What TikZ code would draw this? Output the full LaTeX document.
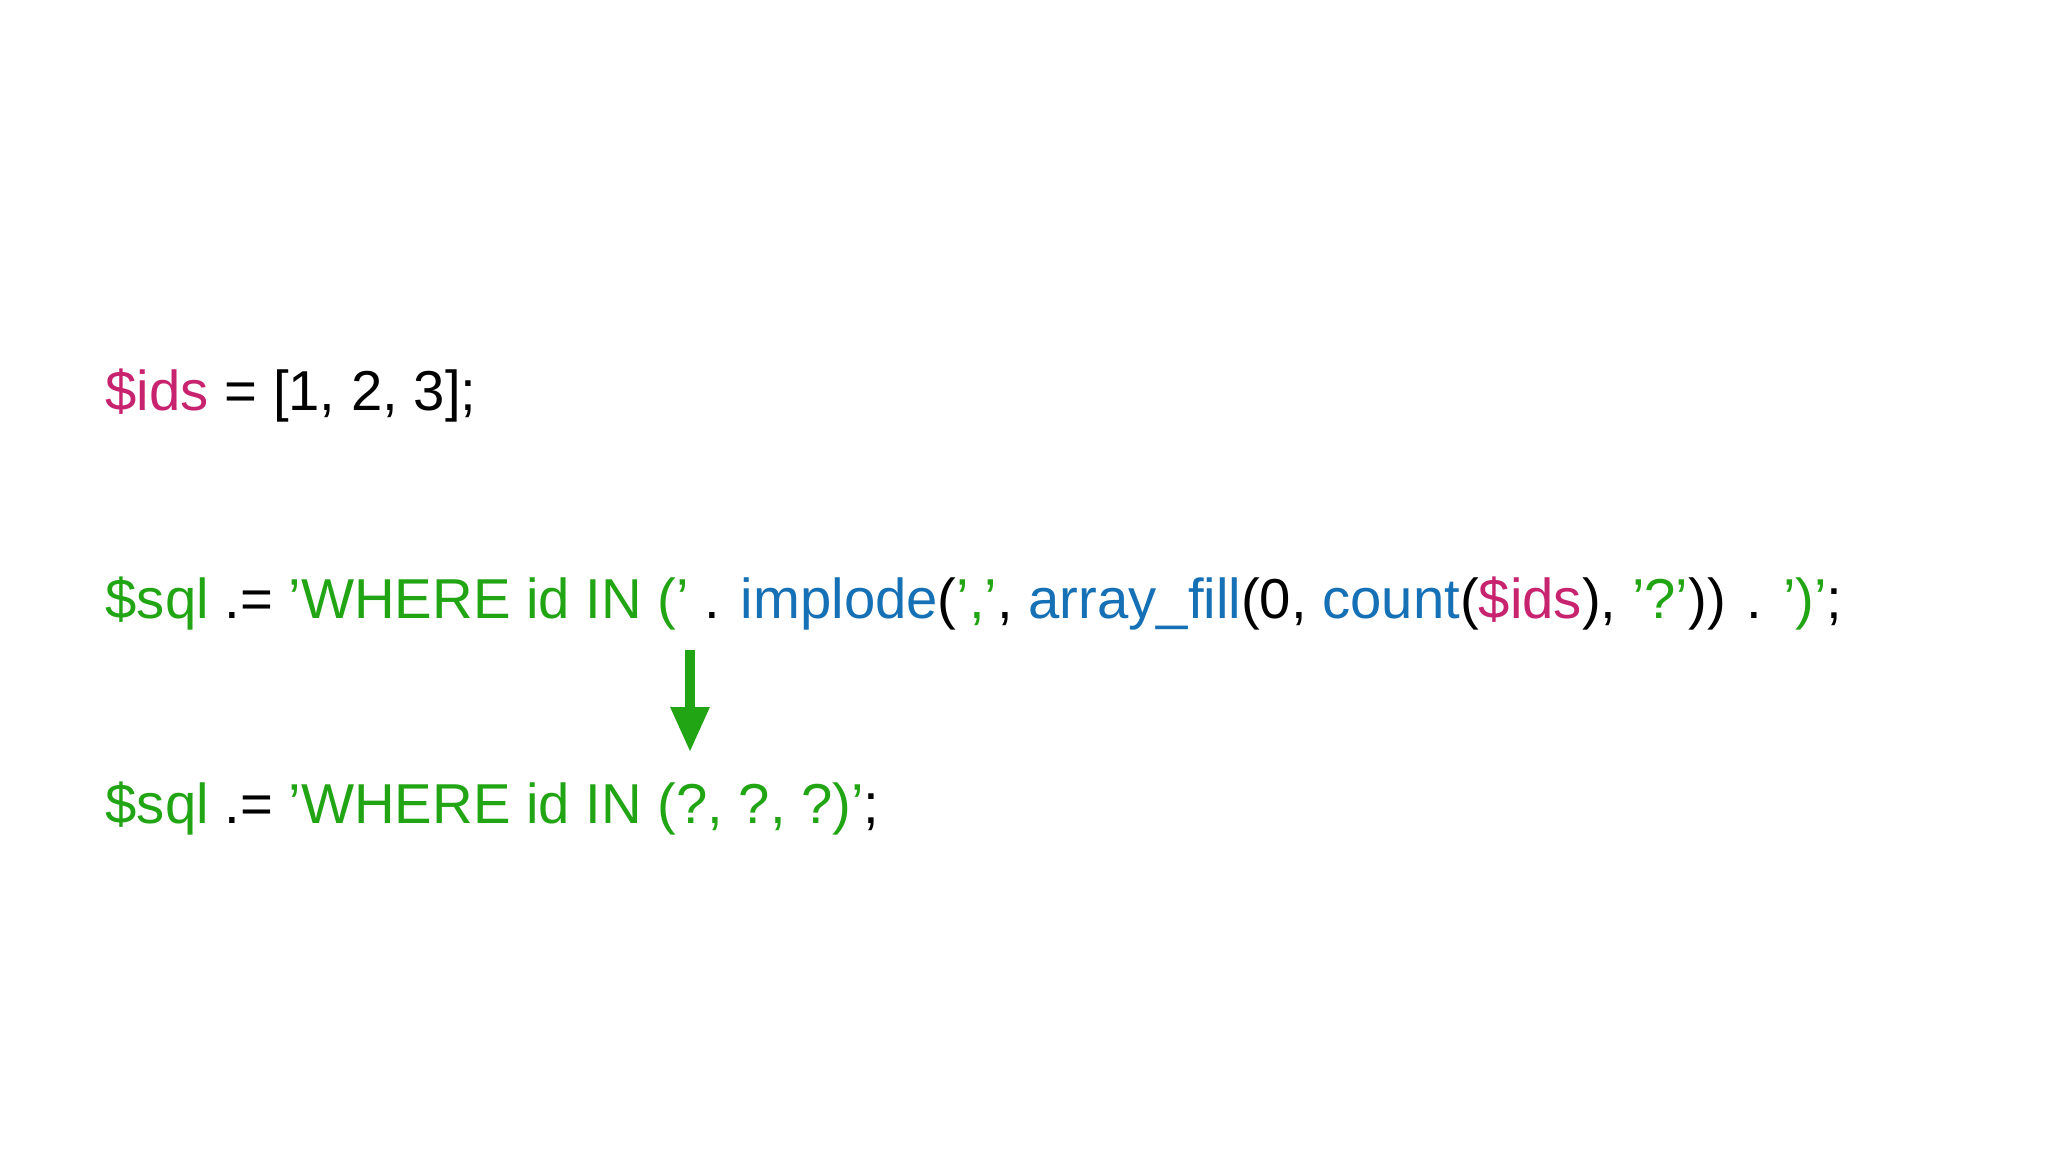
\documentclass[tikz,border=0pt]{standalone}
\usepackage{fontspec}
\setmainfont{Liberation Sans}
\usetikzlibrary{arrows.meta}
\definecolor{pm}{HTML}{C8236F}
\definecolor{pg}{HTML}{22A514}
\definecolor{pb}{HTML}{1570B5}
\tikzset{code/.style={anchor=base west,inner sep=0pt,font=\fontsize{16pt}{19pt}\selectfont}}
\begin{document}
\begin{tikzpicture}[x=0.01cm,y=-0.01cm]
\useasboundingbox[fill=white] (0,0) rectangle (2048,1152);
\node[code] (l1) at (105,411) {\textcolor{pm}{\$ids} = [1, 2, 3];};
\node[code] (l2) at (105,618) {\textcolor{pg}{\$sql} .= \textcolor{pg}{'WHERE id IN ('} . \textcolor{pb}{implode}(\textcolor{pg}{','}, \textcolor{pb}{array\_fill}(0, \textcolor{pb}{count}(\textcolor{pm}{\$ids}), \textcolor{pg}{'?'})) . \textcolor{pg}{')'};};
\node[code] (l3) at (105,823) {\textcolor{pg}{\$sql} .= \textcolor{pg}{'WHERE id IN (?, ?, ?)'};};
\coordinate (a1) at (690,650);
\coordinate (a2) at (690,752);
\draw[pg,line width=9\pgflinewidth*0+2.6pt,-{Triangle[width=37*0.01cm,length=45*0.01cm]}] (a1) -- (a2);
\end{tikzpicture}
\end{document}
